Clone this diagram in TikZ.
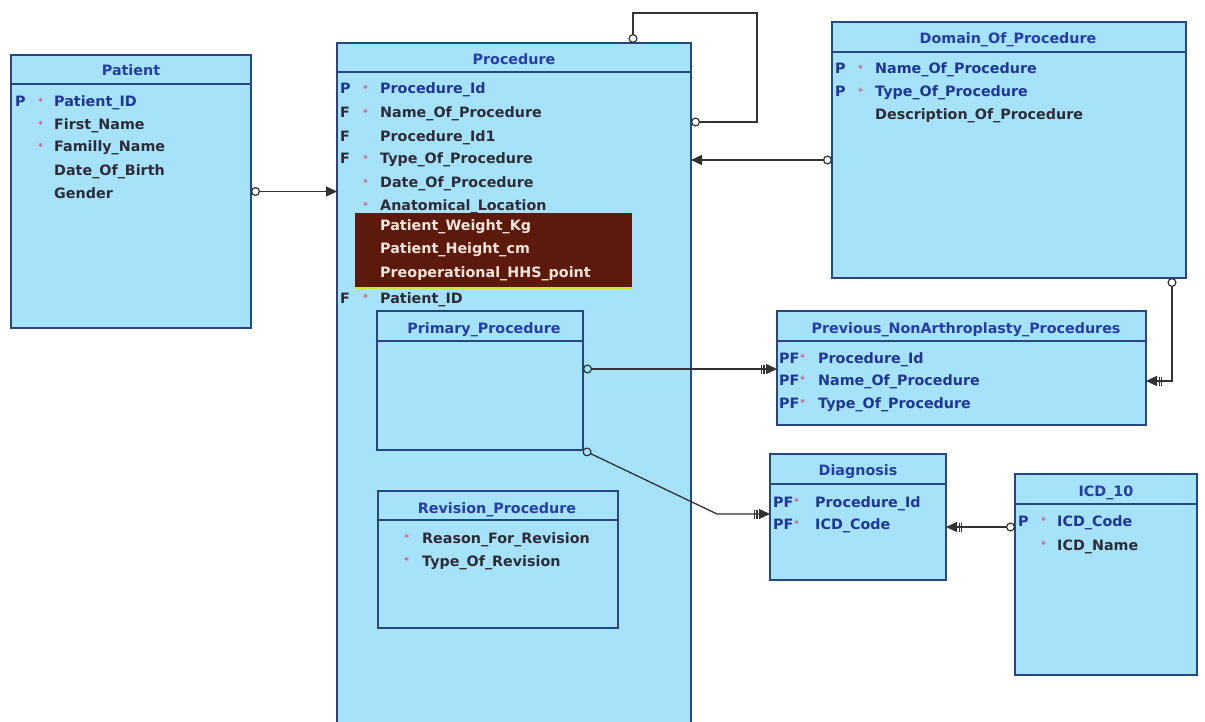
\documentclass[tikz,border=0pt]{standalone}
\usepackage{fontspec}
\setmainfont{DejaVu Sans}
\usetikzlibrary{arrows.meta,calc}

\definecolor{boxfill}{RGB}{166,226,250}
\definecolor{boxline}{RGB}{40,70,130}
\definecolor{titleblue}{RGB}{35,62,165}
\definecolor{keyblue}{RGB}{30,55,150}
\definecolor{plaintext}{RGB}{45,45,55}
\definecolor{starred}{RGB}{225,60,100}
\definecolor{linkgray}{RGB}{50,50,50}
\definecolor{notebrown}{RGB}{92,26,12}
\definecolor{notetext}{RGB}{245,228,218}
\definecolor{noteline}{RGB}{215,225,50}

\newcommand\erfont{\bfseries\fontsize{14.3}{16}\selectfont}
\newcommand\erstarfont{\fontsize{10}{10}\selectfont}

% one attribute row: name, key x, star x, text x, baseline y, key, star, text, colour
\newcommand\fld[9]{%
  \if\relax\detokenize{#6}\relax\else
    \node[fldtxt,text=#9] (#1-key) at (#2,#5) {#6};\fi
  \if\relax\detokenize{#7}\relax\else
    \node[startxt] (#1-star) at (#3,#5) {#7};\fi
  \node[fldtxt,text=#9] (#1) at (#4,#5) {#8};}

\tikzset{
  entity/.style={draw=boxline, fill=boxfill, line width=1.8pt, inner sep=0pt,
    outer sep=0pt, anchor=north west},
  ttl/.style={anchor=base, inner sep=0pt, text=titleblue, font=\erfont},
  fldtxt/.style={anchor=base west, inner sep=0pt, font=\erfont},
  startxt/.style={anchor=base west, inner sep=0pt, text=starred, font=\erstarfont, yshift=1.5pt},
  divider/.style={draw=boxline, line width=1.6pt},
  link/.style={draw=linkgray, line width=1.3pt},
  ring/.tip={Circle[open, length=9pt, width=9pt, line width=1.2pt]},
  fkhead/.tip={Triangle[length=11pt, width=10pt]},
  idhead/.tip={Bar[width=9pt, line width=1.1pt, sep=1.5pt] Bar[width=9pt, line width=1.1pt, sep=1.5pt] Triangle[length=11pt, width=10pt]},
}

\begin{document}
\begin{tikzpicture}[x=1pt, y=-1pt]
\clip (0,0) rectangle (1205,722);
\fill[white] (0,0) rectangle (1205,722);

% ---------- Patient ----------
\node[entity, minimum width=240pt, minimum height=273pt] (patient) at (11,55) {};
\draw[divider] ([yshift=-29pt]patient.north west) -- ([yshift=-29pt]patient.north east);
\node[ttl] (patient-title) at (131,76) {Patient};
\fld{pa1}{15}{38}{54}{107}{P}{*}{Patient\_ID}{keyblue}
\fld{pa2}{15}{38}{54}{130}{}{*}{First\_Name}{plaintext}
\fld{pa3}{15}{38}{54}{152}{}{*}{Familly\_Name}{plaintext}
\fld{pa4}{15}{38}{54}{176}{}{}{Date\_Of\_Birth}{plaintext}
\fld{pa5}{15}{38}{54}{199}{}{}{Gender}{plaintext}

% ---------- Procedure ----------
\node[entity, minimum width=354pt, minimum height=690pt] (proc) at (337,43) {};
\draw[divider] ([yshift=-29pt]proc.north west) -- ([yshift=-29pt]proc.north east);
\node[ttl] (proc-title) at (514,65) {Procedure};
\fld{pr1}{340}{363}{380}{94}{P}{*}{Procedure\_Id}{keyblue}
\fld{pr2}{340}{363}{380}{118}{F}{*}{Name\_Of\_Procedure}{plaintext}
\fld{pr3}{340}{363}{380}{142}{F}{}{Procedure\_Id1}{plaintext}
\fld{pr4}{340}{363}{380}{164}{F}{*}{Type\_Of\_Procedure}{plaintext}
\fld{pr5}{340}{363}{380}{188}{}{*}{Date\_Of\_Procedure}{plaintext}
\fld{pr6}{340}{363}{380}{211}{}{*}{Anatomical\_Location}{plaintext}
\fld{pr7}{340}{363}{380}{303}{F}{*}{Patient\_ID}{plaintext}

% highlighted block of added attributes
\node[fill=notebrown, inner sep=0pt, outer sep=0pt, minimum width=277pt,
  minimum height=74pt, anchor=north west] (note) at (355,213) {};
\draw[noteline, line width=2pt] ([yshift=-1pt]note.south west) -- ([yshift=-1pt]note.south east);
\fld{nt1}{0}{0}{380}{231}{}{}{Patient\_Weight\_Kg}{notetext}
\fld{nt2}{0}{0}{380}{254}{}{}{Patient\_Height\_cm}{notetext}
\fld{nt3}{0}{0}{380}{277}{}{}{Preoperational\_HHS\_point}{notetext}

% ---------- Primary_Procedure (subtype) ----------
\node[entity, minimum width=206pt, minimum height=139pt] (prim) at (377,311) {};
\draw[divider] ([yshift=-30pt]prim.north west) -- ([yshift=-30pt]prim.north east);
\node[ttl] (prim-title) at (484,333) {Primary\_Procedure};

% ---------- Revision_Procedure (subtype) ----------
\node[entity, minimum width=240pt, minimum height=137pt] (rev) at (378,491) {};
\draw[divider] ([yshift=-29pt]rev.north west) -- ([yshift=-29pt]rev.north east);
\node[ttl] (rev-title) at (497,513) {Revision\_Procedure};
\fld{rv1}{0}{404}{422}{543}{}{*}{Reason\_For\_Revision}{plaintext}
\fld{rv2}{0}{404}{422}{566}{}{*}{Type\_Of\_Revision}{plaintext}

% ---------- Domain_Of_Procedure ----------
\node[entity, minimum width=354pt, minimum height=256pt] (dom) at (832,22) {};
\draw[divider] ([yshift=-30pt]dom.north west) -- ([yshift=-30pt]dom.north east);
\node[ttl] (dom-title) at (1008,44) {Domain\_Of\_Procedure};
\fld{do1}{835}{858}{875}{74}{P}{*}{Name\_Of\_Procedure}{keyblue}
\fld{do2}{835}{858}{875}{97}{P}{*}{Type\_Of\_Procedure}{keyblue}
\fld{do3}{835}{858}{875}{120}{}{}{Description\_Of\_Procedure}{plaintext}

% ---------- Previous_NonArthroplasty_Procedures ----------
\node[entity, minimum width=369pt, minimum height=114pt] (prev) at (777,311) {};
\draw[divider] ([yshift=-30pt]prev.north west) -- ([yshift=-30pt]prev.north east);
\node[ttl] (prev-title) at (966,333) {Previous\_NonArthroplasty\_Procedures};
\fld{pv1}{779}{800}{818}{363}{PF}{*}{Procedure\_Id}{keyblue}
\fld{pv2}{779}{800}{818}{385}{PF}{*}{Name\_Of\_Procedure}{keyblue}
\fld{pv3}{779}{800}{818}{408}{PF}{*}{Type\_Of\_Procedure}{keyblue}

% ---------- Diagnosis ----------
\node[entity, minimum width=176pt, minimum height=126pt] (diag) at (770,454) {};
\draw[divider] ([yshift=-30pt]diag.north west) -- ([yshift=-30pt]diag.north east);
\node[ttl] (diag-title) at (858,475) {Diagnosis};
\fld{dg1}{773}{794}{815}{507}{PF}{*}{Procedure\_Id}{keyblue}
\fld{dg2}{773}{794}{815}{529}{PF}{*}{ICD\_Code}{keyblue}

% ---------- ICD_10 ----------
\node[entity, minimum width=182pt, minimum height=201pt] (icd) at (1015,474) {};
\draw[divider] ([yshift=-30pt]icd.north west) -- ([yshift=-30pt]icd.north east);
\node[ttl] (icd-title) at (1106,496) {ICD\_10};
\fld{ic1}{1018}{1041}{1057}{526}{P}{*}{ICD\_Code}{keyblue}
\fld{ic2}{1018}{1041}{1057}{550}{}{*}{ICD\_Name}{plaintext}

% ---------- relationships ----------
\coordinate (loopstart) at ([xshift=296pt]proc.north west);
\coordinate (loopcorner) at (757,13);
\coordinate (loopend) at ([yshift=-79pt]proc.north east);
\coordinate (domlink) at ([yshift=-138pt]dom.north west);
\coordinate (domlow) at ([xshift=-14pt]dom.south east);
\coordinate (prevright) at ([yshift=-70pt]prev.north east);
\coordinate (primright) at ([yshift=-58pt]prim.north east);
\coordinate (diagleft) at ([yshift=-60pt]diag.north west);
\coordinate (diagbend) at ([xshift=-53pt]diagleft);
\coordinate (icdleft) at ([yshift=-53pt]icd.north west);

\draw[link, ring-fkhead] (patient.east) -- (patient.east -| proc.west);
\draw[link, ring-ring] (loopstart) |- (loopcorner) |- (loopend);
\draw[link, ring-fkhead] (domlink) -- (domlink -| proc.east);
\draw[link, ring-idhead] (domlow) |- (prevright);
\draw[link, ring-idhead] (primright) -- (primright -| prev.west);
\draw[link, ring-idhead] (prim.south east) -- (diagbend) -- (diagleft);
\draw[link, ring-idhead] (icdleft) -- (icdleft -| diag.east);
\end{tikzpicture}
\end{document}
